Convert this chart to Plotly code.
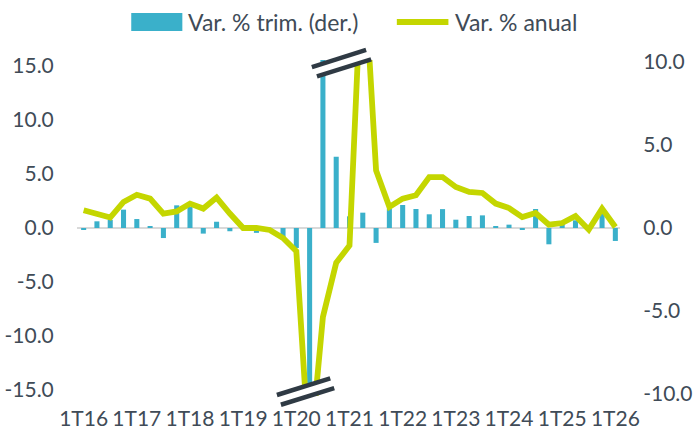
import plotly.graph_objects as go

# ---------------- data ----------------
quarters = ["1T16", "2T16", "3T16", "4T16", "1T17", "2T17", "3T17", "4T17",
            "1T18", "2T18", "3T18", "4T18", "1T19", "2T19", "3T19", "4T19",
            "1T20", "2T20", "3T20", "4T20", "1T21", "2T21", "3T21", "4T21",
            "1T22", "2T22", "3T22", "4T22", "1T23", "2T23", "3T23", "4T23",
            "1T24", "2T24", "3T24", "4T24", "1T25", "2T25", "3T25", "4T25",
            "1T26"]

var_trim = [-0.15, 0.62, 0.75, 1.70, 0.83, 0.15, -0.93, 2.10,
            1.94, -0.52, 0.58, -0.30, 0.10, -0.45, -0.10, -1.05,
            -1.85, -17.0, 16.0, 6.60, 1.08, 1.42, -1.38, 1.79,
            2.13, 1.76, 1.27, 1.75, 0.77, 1.11, 1.17, 0.15,
            0.31, -0.18, 1.76, -1.51, 0.50, 0.71, 0.10, 1.33,
            -1.20]

var_anual = [1.07, 0.81, 0.63, 1.57, 2.00, 1.77, 0.87, 1.00,
             1.47, 1.17, 1.83, 0.87, 0.00, 0.00, -0.12, -0.60,
             -1.40, -14.0, -5.36, -2.10, -1.05, 17.0, 3.47, 1.27,
             1.77, 1.97, 3.07, 3.07, 2.47, 2.17, 2.11, 1.47,
             1.20, 0.66, 0.90, 0.20, 0.30, 0.72, -0.10, 1.17,
             0.06]

x_tick_labels = ["1T16", "1T17", "1T18", "1T19", "1T20", "1T21",
                 "1T22", "1T23", "1T24", "1T25", "1T26"]
left_ticks = [-15, -10, -5, 0, 5, 10, 15]
left_tick_text = ["-15.0", "-10.0", "-5.0", "0.0", "5.0", "10.0", "15.0"]
right_ticks = [-10, -5, 0, 5, 10]
right_tick_text = ["-10.0", "-5.0", "0.0", "5.0", "10.0"]

name_bar = "Var. % trim. (der.)"
name_line = "Var. % anual"

# ---------------- style ----------------
BAR_C = "#3AB0CA"
LINE_C = "#C4D600"
TEXT_C = "#404B57"
BREAK_C = "#2F3A44"
FONT = "Lato, 'Open Sans', sans-serif"

fig = go.Figure()
fig.add_trace(go.Bar(x=quarters, y=var_trim, name=name_bar, yaxis="y",
                     marker=dict(color=BAR_C, line=dict(width=0)), width=0.38,
                     showlegend=False))
fig.add_trace(go.Scatter(x=quarters, y=var_anual, name=name_line, yaxis="y2",
                         mode="lines", line=dict(color=LINE_C, width=5.8),
                         showlegend=False))

fig.update_layout(
    width=693, height=432,
    margin=dict(l=77, r=73, t=60, b=36),
    paper_bgcolor="white", plot_bgcolor="white",
    font=dict(family=FONT, size=21, color=TEXT_C),
    xaxis=dict(type="category", range=[-0.5, 40.35], tickmode="array",
               tickvals=x_tick_labels, ticktext=x_tick_labels,
               showgrid=False, showline=False, zeroline=False, automargin=False,
               ticks="outside", ticklen=4, tickcolor="rgba(0,0,0,0)",
               tickangle=0, tickfont=dict(size=21)),
    yaxis=dict(range=[-15.56, 15.56], tickmode="array", tickvals=left_ticks,
               ticktext=left_tick_text, showgrid=False, showline=False,
               zeroline=True, zerolinecolor="#D9D9D9", zerolinewidth=2,
               automargin=False,
               ticks="outside", ticklen=18, tickcolor="rgba(0,0,0,0)"),
    yaxis2=dict(range=[-10.12, 10.12], overlaying="y", side="right",
                tickmode="array", tickvals=right_ticks, ticktext=right_tick_text,
                showgrid=False, showline=False, zeroline=False, automargin=False,
                ticks="outside", ticklen=18, tickcolor="rgba(0,0,0,0)"),
    bargap=0.62,
)

shapes = []


def add_break(xa, ya, xb, yb, dx, dy):
    # white band between the two dark strokes
    shapes.append(dict(type="line", xref="x", yref="paper",
                       x0=xa + dx / 2, y0=ya + dy / 2, x1=xb + dx / 2, y1=yb + dy / 2,
                       line=dict(color="white", width=9), layer="above"))
    for k in (0, 1):
        shapes.append(dict(type="line", xref="x", yref="paper",
                           x0=xa + k * dx, y0=ya + k * dy,
                           x1=xb + k * dx, y1=yb + k * dy,
                           line=dict(color=BREAK_C, width=4.5), layer="above"))


# axis-break marks
add_break(17.17, 0.979, 21.25, 1.030, 0.38, -0.028)
add_break(14.54, 0.003, 18.55, 0.0527, 0.30, -0.029)

# legend swatches
shapes.append(dict(type="rect", xref="paper", yref="paper",
                   x0=0.0999, x1=0.194, y0=1.086, y1=1.140,
                   fillcolor=BAR_C, line=dict(width=0)))
shapes.append(dict(type="line", xref="paper", yref="paper",
                   x0=0.589, x1=0.684, y0=1.113, y1=1.113,
                   line=dict(color=LINE_C, width=6)))
fig.update_layout(shapes=shapes)

fig.add_annotation(xref="paper", yref="paper", x=0.2015, y=1.113,
                   xanchor="left", yanchor="middle", showarrow=False,
                   text=name_bar, font=dict(size=23, color=TEXT_C))
fig.add_annotation(xref="paper", yref="paper", x=0.6926, y=1.113,
                   xanchor="left", yanchor="middle", showarrow=False,
                   text=name_line, font=dict(size=23, color=TEXT_C))

fig.write_html("out.html",
               config={"displayModeBar": False},
               post_script="document.body.style.margin='0';document.body.style.padding='0';")
